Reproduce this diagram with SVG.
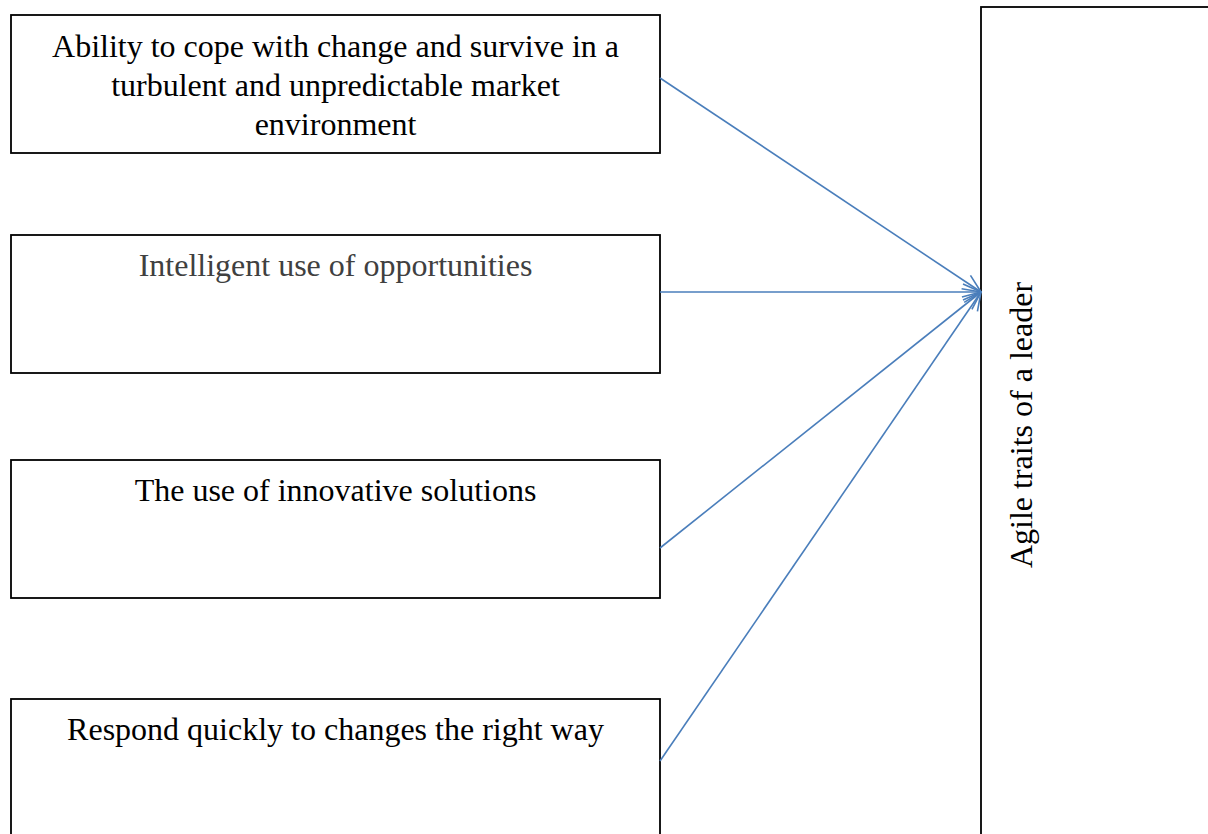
<svg xmlns="http://www.w3.org/2000/svg" width="1208" height="834" viewBox="0 0 1208 834">
  <defs>
    <style>
      .box { fill: #ffffff; stroke: #000000; stroke-width: 1.8; }
      .label { font-family: "Liberation Serif", "Times New Roman", serif; font-size: 32px; fill: #000000; text-anchor: middle; }
      .grey { fill: #404040; }
      .link { fill: none; stroke: #4a7ebb; stroke-width: 1.6; }
    </style>
    <marker id="open-arrow" viewBox="0 0 20 20" refX="19" refY="10" markerWidth="20" markerHeight="20" markerUnits="userSpaceOnUse" orient="auto">
      <path d="M1,2 L19,10 L1,18" fill="none" stroke="#4a7ebb" stroke-width="1.6"/>
    </marker>
  </defs>

  <rect width="1208" height="834" fill="#ffffff"/>

  <g id="node-cope">
    <rect class="box" x="11" y="15" width="649" height="138"/>
    <text class="label" x="335.5" y="57">Ability to cope with change and survive in a</text>
    <text class="label" x="335.5" y="96">turbulent and unpredictable market</text>
    <text class="label" x="335.5" y="135">environment</text>
  </g>

  <g id="node-opportunities">
    <rect class="box" x="11" y="235" width="649" height="138"/>
    <text class="label grey" x="335.5" y="276">Intelligent use of opportunities</text>
  </g>

  <g id="node-innovative">
    <rect class="box" x="11" y="460" width="649" height="138"/>
    <text class="label" x="335.5" y="501">The use of innovative solutions</text>
  </g>

  <g id="node-respond">
    <rect class="box" x="11" y="699" width="649" height="145"/>
    <text class="label" x="335.5" y="740">Respond quickly to changes the right way</text>
  </g>

  <g id="node-agile">
    <rect class="box" x="981" y="7" width="240" height="840"/>
    <text class="label" transform="translate(1032,425) rotate(-90)">Agile traits of a leader</text>
  </g>

  <g id="connectors">
    <line class="link" x1="660" y1="78" x2="981" y2="292" marker-end="url(#open-arrow)"/>
    <line class="link" x1="660" y1="292" x2="981" y2="292" marker-end="url(#open-arrow)"/>
    <line class="link" x1="660" y1="548" x2="981" y2="292" marker-end="url(#open-arrow)"/>
    <line class="link" x1="660" y1="761" x2="981" y2="292" marker-end="url(#open-arrow)"/>
  </g>
</svg>
